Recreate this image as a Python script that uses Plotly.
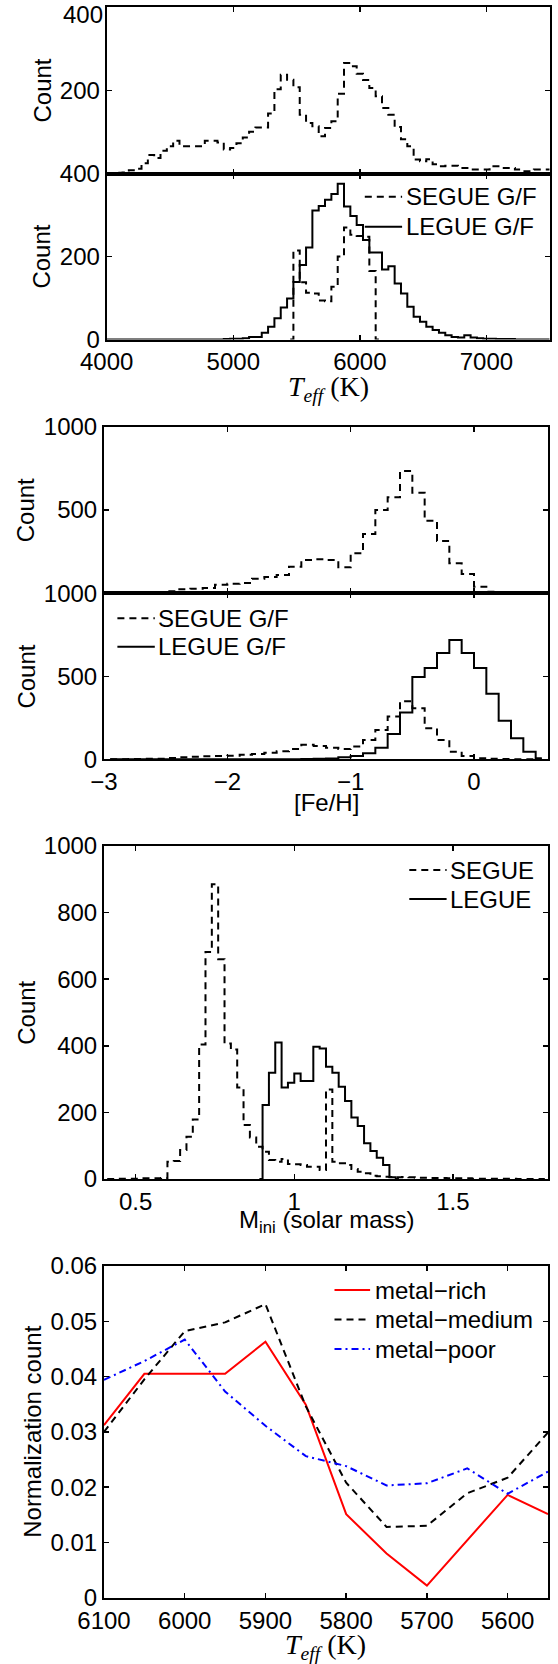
import numpy as np
import plotly.graph_objects as go

# ------------------------------------------------------------------ data
# Panel 1/2 : Teff histograms (bin centres every 50 K from 4000 K)
teff_start, teff_step = 4000, 50
segue_teff_all = [1, 1, 2, 3, 8, 12, 25, 45, 38, 55,
                  66, 79, 66, 66, 66, 66, 79, 79, 75, 58,
                  62, 73, 87, 101, 111, 111, 145, 203, 238, 226,
                  208, 142, 122, 114, 90, 110, 126, 192, 266, 258,
                  240, 225, 206, 186, 158, 142, 112, 83, 66, 34,
                  30, 35, 23, 18, 19, 19, 14, 14, 10, 10,
                  10, 18, 18, 14, 14, 10, 6, 6, 10, 10, 10]
legue_teff_gf = [0, 0, 0, 0, 0, 0, 0, 0, 0, 0,
                 0, 0, 0, 0, 0, 0, 0, 0, 0, 1,
                 2, 2, 3, 6, 6, 16, 31, 51, 77, 99,
                 139, 180, 222, 311, 322, 337, 351, 376, 321, 298,
                 276, 240, 210, 210, 169, 177, 135, 111, 79, 55,
                 43, 31, 23, 16, 10, 6, 5, 10, 5, 3,
                 2, 2, 1, 1, 1, 0, 0, 0, 0, 0, 0]
# SEGUE G/F restricted sample (centres 5450 ... 6150 K)
segue_gf_teff_start = 5450
segue_gf_teff = [0, 215, 138, 113, 111, 94, 92, 127, 200, 270, 253, 250, 248, 165, 0]

# Panel 3/4 : [Fe/H] histograms (bin centres -2.95 ... 0.55, step 0.1)
feh_start, feh_step = -2.95, 0.1
segue_feh_all = [1, 1, 2, 2, 4, 12, 24, 28, 32, 52,
                 58, 62, 88, 98, 110, 160, 200, 204, 200, 156,
                 240, 356, 500, 576, 734, 604, 436, 314, 180, 116,
                 40, 10, 2, 1, 0, 0]
segue_feh_gf = [1, 1, 2, 3, 4, 8, 12, 15, 18, 20,
                22, 28, 32, 40, 48, 62, 87, 80, 70, 62,
                77, 117, 177, 258, 349, 308, 187, 117, 46, 20,
                6, 3, 2, 1, 1, 1]
legue_feh_gf = [0, 0, 0, 0, 0, 0, 0, 0, 0, 0,
                0, 0, 0, 0, 1, 1, 2, 4, 5, 12,
                20, 36, 70, 153, 282, 496, 550, 641, 718, 641,
                550, 395, 232, 127, 46, 6]

# Panel 5 : initial mass histograms (bin centres 0.41 ... 1.79, step 0.02)
mass_start, mass_step = 0.41, 0.02
segue_mass = [0, 0, 1, 1, 1, 1, 2, 2, 2, 3,
              52, 54, 87, 127, 179, 404, 682, 885, 660, 407,
              389, 275, 162, 125, 97, 82, 57, 52, 60, 45,
              44, 42, 37, 37, 27, 269, 52, 47, 42, 30,
              22, 17, 10, 8, 7, 6, 5, 6, 5, 4,
              4, 3, 3, 3, 2, 2, 2, 2, 1, 1,
              1, 1, 1, 1, 1, 0, 0, 0, 0, 0]
legue_mass_start = 0.89
legue_mass = [0, 222, 319, 410, 275, 289, 317, 294, 294, 397,
              392, 337, 319, 277, 234, 185, 159, 107, 84, 64,
              42, 5, 0]

# Panel 6 : normalised Teff distributions of the three metallicity groups
norm_teff = [6100, 6050, 6000, 5950, 5900, 5850, 5800, 5750, 5700, 5650, 5600, 5550]
metal_rich = [0.0312, 0.0405, 0.0405, 0.0405, 0.0463, 0.0349, 0.0151, 0.0080,
              0.0022, 0.0105, 0.0186, 0.0151]
metal_medium = [0.0300, 0.0395, 0.0482, 0.0498, 0.0531, 0.0346, 0.0208, 0.0128,
                0.0130, 0.0189, 0.0217, 0.0299]
metal_poor = [0.0394, 0.0428, 0.0467, 0.0373, 0.0311, 0.0256, 0.0238, 0.0203,
              0.0207, 0.0234, 0.0188, 0.0228]

# legend labels
lbl_segue_gf, lbl_legue_gf = "SEGUE G/F", "LEGUE G/F"
lbl_segue, lbl_legue = "SEGUE", "LEGUE"
lbl_rich, lbl_medium, lbl_poor = "metal\u2212rich", "metal\u2212medium", "metal\u2212poor"

# ------------------------------------------------------------------ helpers
W, H = 558, 1664
FONT = "Liberation Sans, Arial, Helvetica, sans-serif"
SERIF = "Liberation Serif, Times New Roman, serif"
FS = 24
DASH = "7px,5px"
DASHDOT = "7px,4px,2px,4px"


def centres(start, step, n):
    return [round(start + i * step, 4) for i in range(n)]


def py(y):
    return 1 - y / H


def px(x):
    return x / W


fig = go.Figure()


def step_trace(x, y, dash, name, xa, ya):
    fig.add_trace(go.Scatter(
        x=x, y=y, mode="lines", name=name, xaxis=xa, yaxis=ya,
        line=dict(color="black", width=2, dash=dash, shape="hvh"),
        showlegend=False, hoverinfo="skip"))


teff_x = centres(teff_start, teff_step, len(segue_teff_all))
step_trace(teff_x, segue_teff_all, DASH, lbl_segue_gf, "x", "y")
step_trace(centres(segue_gf_teff_start, teff_step, len(segue_gf_teff)), segue_gf_teff,
           DASH, lbl_segue_gf, "x2", "y2")
step_trace(teff_x, legue_teff_gf, "solid", lbl_legue_gf, "x2", "y2")

feh_x = centres(feh_start, feh_step, len(segue_feh_all))
step_trace(feh_x, segue_feh_all, DASH, lbl_segue_gf, "x3", "y3")
step_trace(feh_x, segue_feh_gf, DASH, lbl_segue_gf, "x4", "y4")
step_trace(feh_x, legue_feh_gf, "solid", lbl_legue_gf, "x4", "y4")

step_trace(centres(mass_start, mass_step, len(segue_mass)), segue_mass, DASH,
           lbl_segue, "x5", "y5")
step_trace(centres(legue_mass_start, mass_step, len(legue_mass)), legue_mass, "solid",
           lbl_legue, "x5", "y5")

norm_series = [(metal_rich, lbl_rich, "#ff0000", "solid"),
               (metal_medium, lbl_medium, "#000000", DASH),
               (metal_poor, lbl_poor, "#0000ff", DASHDOT)]
for vals, name, color, dash in norm_series:
    fig.add_trace(go.Scatter(x=norm_teff, y=vals, mode="lines", name=name,
                             line=dict(color=color, width=2, dash=dash),
                             xaxis="x6", yaxis="y6", showlegend=False, hoverinfo="skip"))

# ------------------------------------------------------------------ axes
XT = [px(106.7), px(549.7)]
XO = [px(104.0), px(548.0)]
P1 = [py(173.7), py(7.3)]
P2 = [py(339.5), py(173.7)]
P3 = [py(593.3), py(426.7)]
P4 = [py(759.3), py(593.3)]
P5 = [py(1179.0), py(846.0)]
P6 = [py(1597.7), py(1266.0)]


def axis(domain, rng, anchor, **kw):
    d = dict(domain=domain, range=rng, anchor=anchor, showline=True, linecolor="black",
             linewidth=2, mirror="allticks", ticks="inside", ticklen=5, tickwidth=1.5,
             tickcolor="black", showgrid=False, zeroline=False, automargin=False,
             ticklabeloverflow="allow",
             tickfont=dict(family=FONT, size=FS, color="black"), fixedrange=True)
    d.update(kw)
    return d


teff_ticks = [4000, 5000, 6000, 7000]
feh_ticks = [-3, -2, -1, 0]
feh_text = ["\u22123", "\u22122", "\u22121", "0"]

fig.update_layout(
    xaxis=axis(XT, [4000, 7500], "y", tickvals=teff_ticks, showticklabels=False),
    # the "400" label of the top panel sits at the figure edge; it is drawn as text below
    yaxis=axis(P1, [0, 400], "x", tickvals=[200, 400], ticktext=["200", " "]),
    xaxis2=axis(XT, [4000, 7500], "y2", tickvals=teff_ticks,
                ticktext=[str(t) for t in teff_ticks]),
    yaxis2=axis(P2, [0, 400], "x2", tickvals=[0, 200, 400]),
    xaxis3=axis(XO, [-3, 0.6], "y3", tickvals=feh_ticks, showticklabels=False),
    yaxis3=axis(P3, [0, 1000], "x3", tickvals=[500, 1000]),
    xaxis4=axis(XO, [-3, 0.6], "y4", tickvals=feh_ticks, ticktext=feh_text),
    yaxis4=axis(P4, [0, 1000], "x4", tickvals=[0, 500, 1000]),
    xaxis5=axis(XO, [0.4, 1.8], "y5", tickvals=[0.5, 1, 1.5], ticktext=["0.5", "1", "1.5"]),
    yaxis5=axis(P5, [0, 1000], "x5", tickvals=[0, 200, 400, 600, 800, 1000]),
    xaxis6=axis(XO, [6100, 5550], "y6", tickvals=[6100, 6000, 5900, 5800, 5700, 5600],
                ticktext=["6100", "6000", "5900", "5800", "5700", "5600"]),
    yaxis6=axis(P6, [0, 0.06], "x6", tickvals=[0, 0.01, 0.02, 0.03, 0.04, 0.05, 0.06],
                ticktext=["0", "0.01", "0.02", "0.03", "0.04", "0.05", "0.06"]),
)

# ------------------------------------------------------------------ titles + legends
ann = []
shapes = []


def text(txt, x, y, angle=0, font=FONT, size=FS, xanchor="center"):
    ann.append(dict(text=txt, x=px(x), y=py(y), xref="paper", yref="paper",
                    showarrow=False, textangle=angle, xanchor=xanchor, yanchor="middle",
                    borderpad=0, font=dict(family=font, size=size, color="black")))


def legend(entries, x0, x1, xt, rows):
    for (label, color, dash), yr in zip(entries, rows):
        shapes.append(dict(type="line", xref="paper", yref="paper",
                           x0=px(x0), x1=px(x1), y0=py(yr), y1=py(yr),
                           line=dict(color=color, width=2, dash=dash)))
        text(label, xt, yr, xanchor="left")


text("400", 103.5, 14.0, xanchor="right")
for yc, xc in [(90.5, 42), (256.6, 42), (510.0, 26.3), (676.3, 26.3), (1012.5, 26.3)]:
    text("Count", xc, yc, angle=-90)
text("Normalization count", 33, 1431.8, angle=-90)
teff_title = "<i>T</i><sub><i>eff</i></sub> (K)"
text(teff_title, 328.2, 389, font=SERIF, size=28)
text("[Fe/H]", 326, 802)
text("M<sub>ini</sub> (solar mass)", 326, 1221)
text(teff_title, 325, 1646, font=SERIF, size=28)

legend([(lbl_segue_gf, "black", DASH), (lbl_legue_gf, "black", "solid")],
       364.8, 402.1, 404.5, [196.7, 226.7])
legend([(lbl_segue_gf, "black", DASH), (lbl_legue_gf, "black", "solid")],
       117.4, 154.8, 157.2, [618.3, 646.7])
legend([(lbl_segue, "black", DASH), (lbl_legue, "black", "solid")],
       409.3, 446.6, 449.0, [870.0, 899.0])
legend([(name, color, dash) for _, name, color, dash in norm_series],
       334.5, 370.1, 374.2, [1290.0, 1319.5, 1349.0])

fig.update_layout(
    annotations=ann, shapes=shapes, showlegend=False,
    width=W, height=H, autosize=False,
    margin=dict(l=0, r=0, t=0, b=0, pad=0),
    paper_bgcolor="white", plot_bgcolor="white",
    font=dict(family=FONT, size=FS, color="black"),
)

fig.write_html("out.html", config={"displayModeBar": False, "staticPlot": True})
